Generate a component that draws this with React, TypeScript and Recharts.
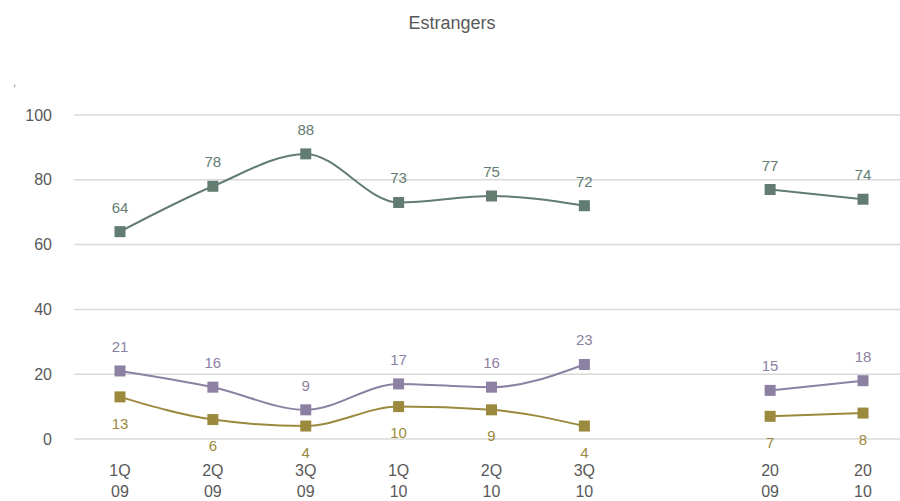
import React from 'react';
import { LineChart, Line, XAxis, YAxis, CartesianGrid, LabelList } from 'recharts';

// categorias (uma vazia entre 3Q 10 e 2009)
const categories = ['1Q 09', '2Q 09', '3Q 09', '1Q 10', '2Q 10', '3Q 10', '', '20 09', '20 10'];
const serieA = [64, 78, 88, 73, 75, 72, null, 77, 74];
const serieB = [21, 16, 9, 17, 16, 23, null, 15, 18];
const serieC = [13, 6, 4, 10, 9, 4, null, 7, 8];
const yTicks = [0, 20, 40, 60, 80, 100];

const data = categories.map((cat, i) => ({
  cat,
  a: serieA[i],
  b: serieB[i],
  c: serieC[i],
}));

const FONT = '"Liberation Sans", Arial, sans-serif';
const COR_A = '#637c72';
const COR_B = '#8d81a3';
const COR_C = '#9b8a3d';

const SquareDot = (props: any) => {
  const { cx, cy, fill, value } = props;
  if (value == null || cx == null || cy == null) return null;
  return <rect x={cx - 5.5} y={cy - 5.5} width={11} height={11} fill={fill} />;
};

const TwoLineTick = ({ x, y, payload }: any) => {
  const parts = String(payload.value).split(' ');
  if (!payload.value) return null;
  return (
    <text x={x} y={y} textAnchor="middle" fill="#595959" fontSize={16} fontFamily={FONT}>
      <tspan x={x} dy={29}>{parts[0]}</tspan>
      <tspan x={x} dy={21}>{parts[1]}</tspan>
    </text>
  );
};

export default function App() {
  return (
    <div
      style={{
        position: 'absolute',
        left: 0,
        top: 0,
        width: 900,
        height: 501,
        overflow: 'hidden',
        background: '#fff',
        fontFamily: FONT,
      }}
    >
      <div
        style={{
          position: 'absolute',
          top: 13,
          left: 0,
          width: 904,
          textAlign: 'center',
          fontSize: 18,
          color: '#595959',
        }}
      >
        Estrangers
      </div>
      <div style={{ position: 'absolute', top: 76, left: 13, fontSize: 11, color: '#7f7f7f' }}>,</div>
      <LineChart
        width={912}
        height={501}
        data={data}
        margin={{ top: 115, right: 3, left: 0, bottom: 0 }}
        style={{ fontFamily: FONT }}
      >
        <CartesianGrid vertical={false} stroke="#d9d9d9" strokeWidth={1.5} />
        <XAxis
          dataKey="cat"
          axisLine={false}
          tickLine={false}
          height={62}
          interval={0}
          padding={{ left: 46, right: 46 }}
          tick={<TwoLineTick />}
        />
        <YAxis
          domain={[0, 100]}
          ticks={yTicks}
          width={74}
          axisLine={false}
          tickLine={false}
          tickMargin={16}
          tick={{ fill: '#595959', fontSize: 16 }}
        />
        <Line
          dataKey="a"
          type="monotone"
          stroke={COR_A}
          strokeWidth={2}
          fill={COR_A}
          dot={<SquareDot />}
          activeDot={false}
          isAnimationActive={false}
        >
          <LabelList dataKey="a" position="top" offset={19} fill={COR_A} fontSize={15} />
        </Line>
        <Line
          dataKey="b"
          type="monotone"
          stroke={COR_B}
          strokeWidth={2}
          fill={COR_B}
          dot={<SquareDot />}
          activeDot={false}
          isAnimationActive={false}
        >
          <LabelList dataKey="b" position="top" offset={19} fill={COR_B} fontSize={15} />
        </Line>
        <Line
          dataKey="c"
          type="monotone"
          stroke={COR_C}
          strokeWidth={2}
          fill={COR_C}
          dot={<SquareDot />}
          activeDot={false}
          isAnimationActive={false}
        >
          <LabelList dataKey="c" position="bottom" offset={21} fill={COR_C} fontSize={15} />
        </Line>
      </LineChart>
    </div>
  );
}
